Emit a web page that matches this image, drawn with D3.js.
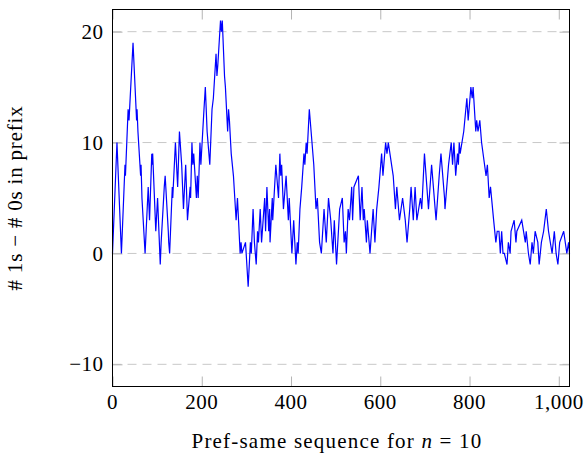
<!DOCTYPE html>
<html>
<head>
<meta charset="utf-8">
<script src="https://cdn.jsdelivr.net/npm/d3@7"></script>
<style>
  body { margin: 0; background: #fff; }
  svg text { font-family: 'Liberation Serif', 'DejaVu Serif', serif; fill: #000; }
</style>
</head>
<body>
<svg id="chart" width="587" height="455"></svg>
<script>
// turning points of the walk (position in sequence, prefix value)
var stepIdx = [
  0, 10, 20, 28, 29, 35, 37, 46, 54, 55, 57, 63, 64, 66, 73, 80, 83, 88, 89, 90,
  97, 101, 107, 109, 116, 118, 125, 126, 128, 134, 135, 141, 146, 150, 155, 159, 164, 168, 174, 175,
  178, 180, 182, 188, 190, 192, 196, 198, 205, 208, 212, 214, 218, 223, 226, 232, 234, 236, 242, 244,
  246, 251, 253, 258, 260, 262, 266, 271, 277, 280, 286, 288, 290, 298, 304, 309, 311, 315, 318, 322,
  325, 327, 331, 334, 341, 343, 346, 350, 352, 353, 358, 359, 366, 372, 375, 377, 379, 383, 389, 394,
  396, 402, 406, 411, 414, 416, 420, 424, 429, 431, 434, 436, 441, 447, 451, 456, 459, 464, 468, 474,
  479, 484, 489, 494, 497, 502, 509, 515, 519, 522, 524, 528, 531, 536, 538, 541, 551, 555, 559, 562,
  564, 569, 571, 577, 584, 588, 592, 597, 603, 606, 612, 615, 618, 629, 634, 637, 643, 650, 656, 660,
  666, 669, 674, 678, 682, 690, 693, 699, 708, 715, 723, 725, 732, 736, 744, 745, 753, 759, 762, 765,
  769, 773, 775, 777, 779, 787, 794, 797, 803, 806, 808, 814, 816, 819, 823, 827, 837, 840, 844, 847,
  854, 859, 862, 866, 869, 872, 875, 878, 884, 887, 891, 893, 900, 904, 906, 917, 925, 927, 932, 936,
  940, 943, 947, 953, 956, 961, 966, 972, 977, 981, 985, 990, 994, 998, 1002, 1011, 1018, 1022, 1024
]
var prefixVal = [
  0, 10, 0, 8, 7, 13, 12, 19, 12, 13, 11, 7, 8, 5, 0, 6, 3, 9, 8, 9,
  2, 5, -1, 1, 6, 7, 2, 1, 0, 6, 5, 10, 6, 11, 8, 4, 8, 3, 6, 5,
  10, 8, 9, 5, 7, 5, 10, 8, 13, 15, 11, 10, 8, 13, 14, 18, 16, 17, 21, 20,
  21, 16, 15, 11, 13, 12, 9, 7, 3, 5, 0, 1, 0, 1, -3, 1, 0, 4, 1, -1,
  2, 1, 4, 1, 5, 2, 6, 2, 4, 1, 5, 3, 8, 5, 9, 7, 8, 4, 7, 3,
  5, 0, 3, -1, 1, 0, 4, 6, 9, 8, 10, 9, 13, 10, 8, 4, 5, 1, 0, 4,
  1, 5, 3, 0, 3, -1, 4, 5, 1, 2, 0, 4, 3, 6, 3, 6, 7, 3, 6, 3,
  4, 1, 3, 0, 4, 1, 4, 6, 9, 7, 10, 9, 10, 7, 4, 6, 3, 5, 3, 1,
  4, 6, 3, 6, 3, 5, 4, 9, 4, 8, 4, 3, 7, 9, 5, 4, 8, 10, 8, 10,
  7, 9, 8, 10, 9, 11, 14, 12, 15, 14, 15, 11, 12, 11, 12, 10, 7, 8, 5, 6,
  3, 1, 2, 2, 0, 2, 0, 0, -1, 1, 0, 2, 3, 1, 2, 3, 1, 2, 0, -1,
  1, 0, 2, 1, -1, 1, 2, 4, 2, 1, 0, 2, 0, -1, 1, 2, 0, 1, 0
]
var xTicks = [0, 200, 400, 600, 800, 1000]
var yTicks = [-10, 0, 10, 20]

;(function () {
  'use strict'

  var margin = { top: 9.5, right: 17.5, bottom: 68.5, left: 112.5 },
    width = 587 - margin.left - margin.right,
    height = 455 - margin.top - margin.bottom

  var svg = d3.select('#chart')
  var g = svg.append('g')
    .attr('transform', 'translate(' + margin.left + ',' + margin.top + ')')

  var x = d3.scaleLinear().domain([0, 1024]).range([0, width])
  var y = d3.scaleLinear().domain([-12, 22]).range([height, 0])

  // dashed horizontal grid
  g.append('g')
    .selectAll('line')
    .data(yTicks)
    .enter()
    .append('line')
    .attr('x1', 0)
    .attr('x2', width)
    .attr('y1', function (d) { return y(d) })
    .attr('y2', function (d) { return y(d) })
    .attr('stroke', '#c8c8c8')
    .attr('stroke-width', 1)
    .attr('stroke-dasharray', '9,6')

  // ticks on all four sides, drawn inward
  function tickStyle(sel) {
    sel.select('.domain').remove()
    sel.selectAll('.tick line').attr('stroke', '#b4b4b4')
    sel.selectAll('.tick text').remove()
  }
  g.append('g').attr('transform', 'translate(0,' + height + ')')
    .call(d3.axisTop(x).tickValues(xTicks).tickSize(10)).call(tickStyle)
  g.append('g')
    .call(d3.axisBottom(x).tickValues(xTicks).tickSize(10)).call(tickStyle)
  g.append('g')
    .call(d3.axisRight(y).tickValues(yTicks).tickSize(10)).call(tickStyle)
  g.append('g').attr('transform', 'translate(' + width + ',0)')
    .call(d3.axisLeft(y).tickValues(yTicks).tickSize(10)).call(tickStyle)

  // the walk
  var pts = stepIdx.map(function (d, i) { return [d, prefixVal[i]] })
  var line = d3.line()
    .x(function (d) { return x(d[0]) })
    .y(function (d) { return y(d[1]) })

  g.append('path')
    .datum(pts)
    .attr('fill', 'none')
    .attr('stroke', '#0000ff')
    .attr('stroke-width', 1.2)
    .attr('stroke-linejoin', 'miter')
    .attr('d', line)

  // frame
  g.append('rect')
    .attr('width', width)
    .attr('height', height)
    .attr('fill', 'none')
    .attr('stroke', '#000')
    .attr('stroke-width', 1)

  // tick labels
  var fmt = d3.format(',')
  g.append('g')
    .selectAll('text')
    .data(xTicks)
    .enter()
    .append('text')
    .attr('x', function (d) { return x(d) })
    .attr('y', height + 22)
    .attr('text-anchor', 'middle')
    .style('font-size', '21px')
    .style('letter-spacing', '0.5px')
    .text(function (d) { return fmt(d) })

  g.append('g')
    .selectAll('text')
    .data(yTicks)
    .enter()
    .append('text')
    .attr('x', -9)
    .attr('y', function (d) { return y(d) })
    .attr('dy', '0.34em')
    .attr('text-anchor', 'end')
    .style('font-size', '21px')
    .style('letter-spacing', '0.5px')
    .text(function (d) { return d < 0 ? '\u2212' + Math.abs(d) : d })

  // axis titles
  var xt = g.append('text')
    .attr('x', width / 2 - 4)
    .attr('y', height + 61)
    .attr('text-anchor', 'middle')
    .style('font-size', '21px')
    .style('letter-spacing', '1.2px')
  xt.append('tspan').text('Pref-same sequence for ')
  xt.append('tspan').style('font-style', 'italic').text('n')
  xt.append('tspan').text(' = 10')

  svg.append('text')
    .attr('transform', 'translate(22,' + (margin.top + height / 2) + ') rotate(-90)')
    .attr('text-anchor', 'middle')
    .style('font-size', '21px')
    .style('letter-spacing', '0.8px')
    .text('# 1s \u2212 # 0s in prefix')
})()
</script>
</body>
</html>
